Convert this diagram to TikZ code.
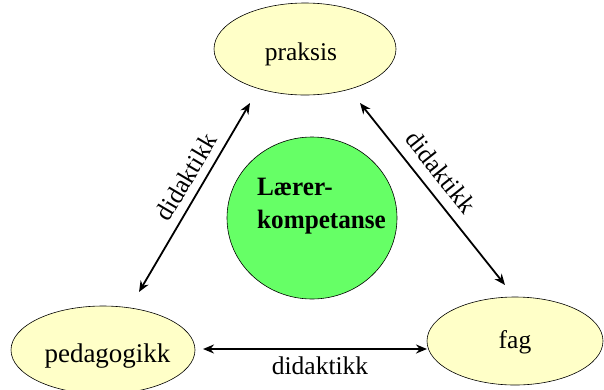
\documentclass[tikz,border=0pt]{standalone}
\usepackage{fontspec}
\setmainfont{Liberation Serif}
\usetikzlibrary{arrows.meta,shapes.geometric}
\definecolor{ell}{HTML}{FFFFC8}
\definecolor{grn}{HTML}{66FF66}
\begin{document}
\begin{tikzpicture}[x=1pt,y=-1pt,
  ellnode/.style={ellipse,draw=black,line width=0.6pt,fill=ell,inner sep=0pt},
  arr/.style={line width=1.8pt,{Stealth[length=11pt,width=9pt]}-{Stealth[length=11pt,width=9pt]}},
  lbl/.style={font=\fontsize{25.5}{28}\selectfont,inner sep=0pt}]
\useasboundingbox[fill=white] (0,0) rectangle (604,389);
\node[ellnode,minimum width=182pt,minimum height=92pt] (praksis) at (305,49) {};
\node[ellnode,minimum width=184pt,minimum height=88pt] (ped) at (103,350) {};
\node[ellnode,minimum width=176pt,minimum height=88pt] (fag) at (515,341) {};
\node[lbl,anchor=base] (praksis-t) at (301,60) {praksis};
\node[lbl,anchor=base,font=\fontsize{27}{28}\selectfont] (ped-t) at (107.5,362) {pedagogikk};
\node[lbl,anchor=base] (fag-t) at (515,348) {fag};
\node[ellipse,draw=black,line width=0.6pt,fill=grn,minimum width=170pt,minimum height=162pt,inner sep=0pt] (laerer) at (312,218) {};
\node[align=left,font=\bfseries\fontsize{26.5}{33}\addfontfeature{FakeStretch=0.95}\selectfont,anchor=base west,inner sep=0pt] (lt) at (257,228) {Lærer-\\kompetanse};
\coordinate (l1) at (139,292);
\coordinate (l2) at (250,103);
\coordinate (r1) at (360,103);
\coordinate (r2) at (505,285);
\coordinate (b1) at (203,349);
\coordinate (b2) at (427,349);
\draw[arr] (l1) -- (l2);
\draw[arr] (r1) -- (r2);
\draw[arr] (b1) -- (b2);
\node[lbl,rotate=59.4] (tl) at (186,177) {didaktikk};
\node[lbl,rotate=-51.5] (tr) at (441,172) {didaktikk};
\node[lbl,anchor=base] (tb) at (320,374) {didaktikk};
\end{tikzpicture}
\end{document}
